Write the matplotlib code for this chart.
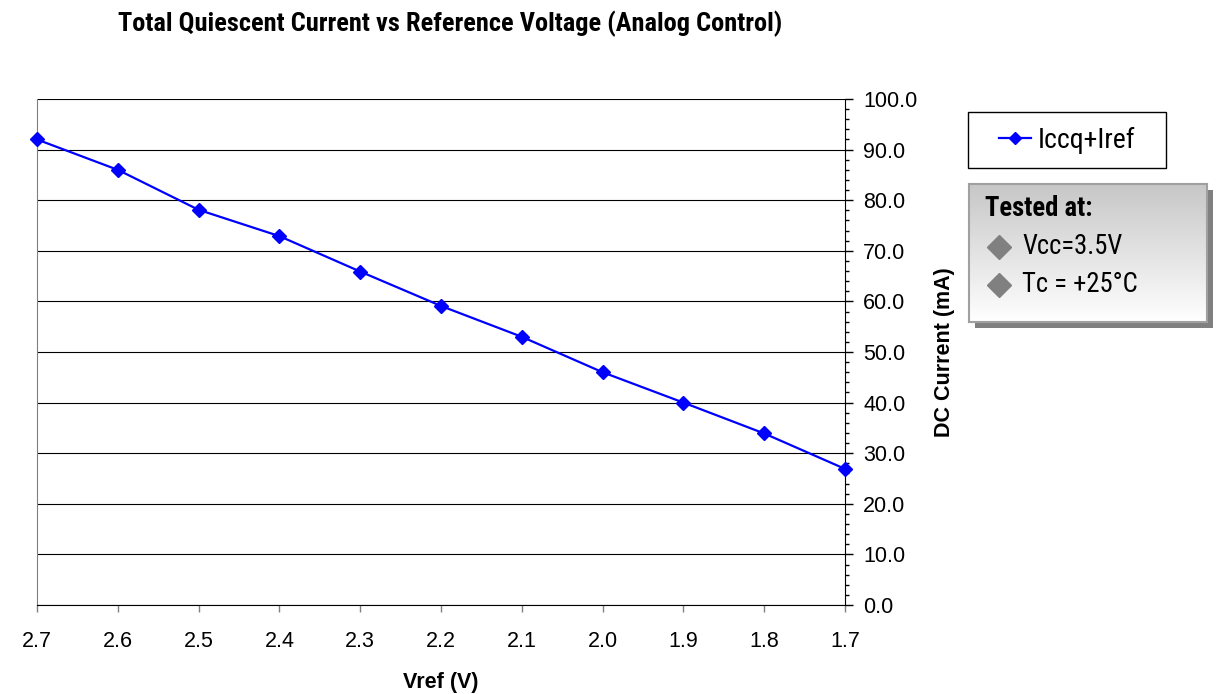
import matplotlib
matplotlib.use("Agg")
import matplotlib.pyplot as plt
import numpy as np
from matplotlib import font_manager
from matplotlib.patches import Rectangle
from matplotlib.ticker import MultipleLocator, FormatStrFormatter

vref = [2.7, 2.6, 2.5, 2.4, 2.3, 2.2, 2.1, 2.0, 1.9, 1.8, 1.7]
icc = [92.0, 86.0, 78.1, 72.9, 65.9, 59.1, 53.0, 46.0, 40.0, 33.9, 26.9]
series_label = "Iccq+Iref"
title = "Total Quiescent Current vs Reference Voltage (Analog Control)"
xlabel = "Vref (V)"
ylabel = "DC Current (mA)"
note_title = "Tested at:"
note_lines = ["Vcc=3.5V", "Tc = +25°C"]

names = {f.name for f in font_manager.fontManager.ttflist}
def pick(*cands):
    for c in cands:
        if c in names:
            return c
    return "DejaVu Sans"
narrow = pick("Roboto Condensed", "Archivo Narrow", "PT Sans Narrow", "Liberation Sans Narrow")
base = pick("Liberation Sans", "Arimo")
plt.rcParams['font.family'] = [base, 'DejaVu Sans']
NF = [narrow, 'DejaVu Sans']

W, H = 1220, 694
fig = plt.figure(figsize=(W / 100, H / 100), dpi=100)
L, R, T, B = 37, 845, 99, 605
ax = fig.add_axes([L / W, 1 - B / H, (R - L) / W, (B - T) / H])

line, = ax.plot(vref, icc, color='#0000FF', lw=1.6, marker='D', markersize=7,
                markerfacecolor='#0000FF', markeredgecolor='#0000FF', label=series_label,
                clip_on=False, zorder=5)

ax.set_xlim(2.7, 1.7)
ax.set_ylim(0, 100)
ax.set_xticks(vref)
ax.xaxis.set_major_formatter(FormatStrFormatter('%.1f'))
ax.yaxis.tick_right()
ax.yaxis.set_label_position('right')
ax.yaxis.set_major_locator(MultipleLocator(10))
ax.yaxis.set_minor_locator(MultipleLocator(2))
ax.yaxis.set_major_formatter(FormatStrFormatter('%.1f'))
ax.grid(axis='y', which='major', color='#000000', lw=0.8)
ax.set_axisbelow(True)

ax.spines['top'].set_visible(False)
ax.spines['left'].set_color('#808080')
ax.spines['bottom'].set_color('#000000')
ax.spines['right'].set_color('#000000')

ax.tick_params(axis='y', which='major', direction='out', length=6, width=1,
               labelsize=15.5, pad=7, colors='black')
ax.tick_params(axis='y', which='minor', direction='out', length=3, width=1)
ax.tick_params(axis='x', which='major', direction='out', length=5, width=1,
               labelsize=15.5, pad=14, color='#808080', labelcolor='black')

ax.set_xlabel(xlabel, fontsize=15.5, fontweight='bold', labelpad=14)
ax.set_ylabel(ylabel, fontsize=15.5, fontweight='bold', labelpad=12)

fig.text(450 / W, 1 - 24 / H, title, ha='center', va='center',
         fontsize=19, fontweight='bold', family=NF)

# legend: frame drawn as rectangle, content centred inside
lx0, lx1, ly0, ly1 = 968, 1166, 112, 168
fig.patches.append(Rectangle((lx0 / W, 1 - ly1 / H), (lx1 - lx0) / W, (ly1 - ly0) / H,
                             transform=fig.transFigure, facecolor='white',
                             edgecolor='black', lw=1, zorder=1))
leg = fig.legend(handles=[line], loc='center',
                 bbox_to_anchor=((lx0 + lx1) / 2 / W, 1 - (ly0 + ly1) / 2 / H),
                 bbox_transform=fig.transFigure, frameon=False, handlelength=1.15,
                 borderpad=0, handletextpad=0.25, borderaxespad=0,
                 prop={'family': NF, 'size': 20})
leg.set_zorder(10)
for h in leg.legend_handles:
    h.set_markersize(6)

# note box with shadow and gradient
bx0, bx1, by0, by1 = 969, 1207, 184, 322
sh = 6
fig.patches.append(Rectangle(((bx0 + sh) / W, 1 - (by1 + sh) / H),
                             (bx1 - bx0) / W, (by1 - by0) / H,
                             transform=fig.transFigure, facecolor='#808080',
                             edgecolor='none', zorder=1))
nax = fig.add_axes([bx0 / W, 1 - by1 / H, (bx1 - bx0) / W, (by1 - by0) / H], zorder=2)
grad = np.linspace(0.78, 1.0, 256).reshape(-1, 1)
nax.imshow(np.dstack([grad, grad, grad]), aspect='auto', extent=[0, 1, 0, 1],
           origin='upper')
nax.set_xlim(0, 1)
nax.set_ylim(0, 1)
nax.set_xticks([])
nax.set_yticks([])
for s in nax.spines.values():
    s.set_color('#a0a0a0')
    s.set_linewidth(1.5)

def fy(py):
    return 1 - (py - by0) / (by1 - by0)

def fx(px):
    return (px - bx0) / (bx1 - bx0)

nax.text(fx(985), fy(209), note_title, ha='left', va='center', fontsize=19.2,
         fontweight='bold', family=NF)
for i, t in enumerate(note_lines):
    yy = fy(247 + 38 * i)
    nax.plot([fx(999)], [yy], marker='D', color='#808080', markersize=12.5)
    nax.text(fx(1022), yy, t, ha='left', va='center', fontsize=19.2, family=NF)

fig.savefig('out.png', dpi=100)
